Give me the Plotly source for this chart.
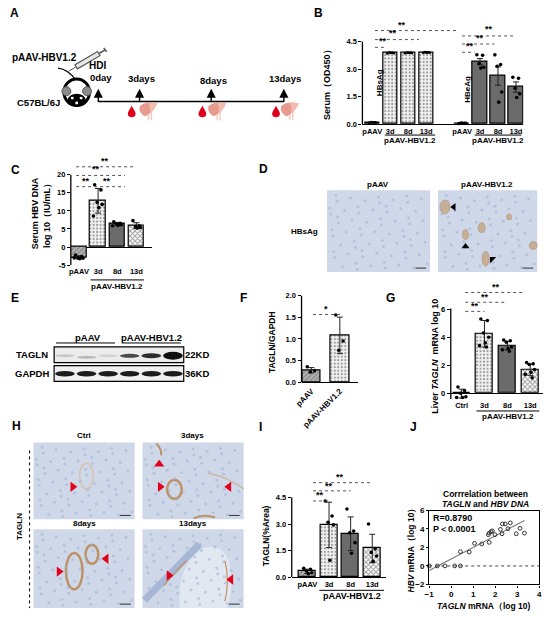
import numpy as np
import plotly.graph_objects as go

W, H = 550, 617
FONT = "Liberation Sans, Arial, sans-serif"

# ---------------- data ----------------
# B  serum HBsAg / HBeAg (OD450), mean +/- SEM
b_ticks = ["pAAV", "3d", "8d", "13d", "pAAV", "3d", "8d", "13d"]
hbsag_mean = [0.10, 3.88, 3.88, 3.90]
hbsag_err = [0.02, 0.03, 0.03, 0.04]
hbsag_pts = [[0.08, 0.11, 0.12, 0.09, 0.10],
             [3.85, 3.89, 3.90, 3.86, 3.88],
             [3.86, 3.88, 3.90, 3.87, 3.89],
             [3.88, 3.91, 3.92, 3.89, 3.90]]
hbeag_mean = [0.05, 3.40, 2.62, 2.02]
hbeag_err = [0.01, 0.17, 0.50, 0.28]
hbeag_pts = [[0.04, 0.05, 0.06, 0.05, 0.05],
             [3.78, 3.75, 3.30, 3.10, 3.05],
             [3.77, 3.25, 3.15, 1.75, 1.20],
             [2.55, 2.50, 1.95, 1.65, 1.45]]

# C  serum HBV DNA log10 (IU/mL), mean +/- SD
c_ticks = ["pAAV", "3d", "8d", "13d"]
dna_mean = [-2.85, 12.8, 6.35, 5.92]
dna_sd = [0.45, 3.4, 0.45, 0.8]
dna_pts = [[-2.2, -2.6, -3.0, -3.1, -3.2, -3.0],
           [17.2, 15.8, 12.4, 11.8, 10.9, 8.6],
           [7.0, 6.6, 6.4, 6.2, 6.0, 5.9],
           [7.3, 5.9, 5.7, 5.4, 5.3]]

# F  TAGLN/GAPDH
f_ticks = ["pAAV", "pAAV-HBV1.2"]
ratio_mean = [0.28, 1.08]
ratio_sd = [0.06, 0.42]
ratio_pts = [[0.36, 0.27, 0.24], [1.55, 0.95, 0.74]]

# G  liver TAGLN mRNA log10
g_ticks = ["Ctrl", "3d", "8d", "13d"]
mrna_mean = [-0.03, 4.25, 3.40, 1.68]
mrna_sd = [0.32, 0.95, 0.30, 0.40]
mrna_pts = [[0.45, 0.2, 0.0, -0.25, -0.3, -0.3],
            [5.3, 5.2, 4.3, 4.0, 3.6, 3.4, 3.3],
            [3.8, 3.75, 3.65, 3.3, 3.2, 3.1, 3.0],
            [2.2, 2.1, 2.05, 1.7, 1.5, 1.35, 1.1]]

# I  TAGLN (% area)
i_ticks = ["pAAV", "3d", "8d", "13d"]
area_mean = [0.33, 2.95, 2.45, 1.62]
area_sd = [0.12, 1.28, 0.95, 0.80]
area_pts = [[0.5, 0.45, 0.35, 0.25, 0.2],
            [4.3, 3.45, 3.1, 2.95, 0.95],
            [3.85, 2.6, 2.5, 1.95, 1.35],
            [3.0, 1.6, 1.4, 1.2, 0.9]]

# J  correlation
j_tagln = [-1.0, -0.63, -0.28, 0.16, 0.42, 0.42, 0.82, 1.06, 1.39, 1.73, 1.69, 1.73,
           1.81, 1.87, 1.99, 2.24, 2.31, 2.33, 2.46, 2.58, 2.69, 2.96, 3.13, 3.33]
j_hbv = [0, 0, 0, 0, 0, 1.55, 1.5, 2.45, 2.38, 2.55, 3.38, 3.55,
         3.7, 3.8, 3.38, 3.96, 3.48, 4.55, 4.55, 4.03, 4.66, 3.48, 4.07, 3.55]
j_r = "R=0.8790"
j_p = "P＜0.0001"

# ---------------- helpers ----------------
fig = go.Figure()
layout = {}
annots = []
shapes = []

ST = {  # pattern shape, fg, bg, solidity
    "hatch": ("/", "#333333", "#b3b3b3", 0.3),
    "dots": (".", "#8a8a8a", "#f2f2f2", 0.3),
    "dark": ("", "#6b6b6b", "#6b6b6b", 0.3),
    "check": ("x", "#111111", "#ffffff", 0.5),
}
JIT = [-0.22, 0.18, -0.06, 0.26, 0.05, -0.3, 0.12]


def ids(i):
    return ("x" if i == 1 else f"x{i}"), ("y" if i == 1 else f"y{i}")


def keys(i):
    return ("xaxis" if i == 1 else f"xaxis{i}"), ("yaxis" if i == 1 else f"yaxis{i}")


def fnt(size, color="black"):
    return dict(size=size, family=FONT, color=color, weight="bold")


def txt(x, y, s, size=9, angle=0, xanchor="center", xref="x7", yref="y7"):
    annots.append(dict(x=x, y=y, xref=xref, yref=yref, text=s, showarrow=False,
                       font=fnt(size), textangle=angle, xanchor=xanchor,
                       yanchor="middle", borderpad=0))


def seg(x0, y0, x1, y1, color="black", width=1.0, dash="solid", xref="x7", yref="y7"):
    shapes.append(dict(type="line", xref=xref, yref=yref, x0=x0, y0=y0, x1=x1, y1=y1,
                       line=dict(color=color, width=width, dash=dash), layer="above"))


def blob(x0, y0, x1, y1, fill=None, line=None, lw=1.0, kind="circle", opacity=1.0, layer="above"):
    shapes.append(dict(type=kind, xref="x7", yref="y7", x0=x0, y0=y0, x1=x1, y1=y1,
                       fillcolor=fill if fill else "rgba(0,0,0,0)",
                       line=dict(color=line if line else "rgba(0,0,0,0)", width=lw if line else 0),
                       opacity=opacity, layer=layer))


def path(d, fill=None, line=None, lw=1.0, layer="above"):
    shapes.append(dict(type="path", xref="x7", yref="y7", path=d,
                       fillcolor=fill if fill else "rgba(0,0,0,0)",
                       line=dict(color=line if line else "rgba(0,0,0,0)", width=lw if line else 0),
                       layer=layer))


def dom_x(a, b):
    return [a / W, b / W]


def dom_y(top, bottom):
    return [1 - bottom / H, 1 - top / H]


def bars(i, pos, mean, err, pts, styles, width, psize=3.6):
    xa, ya = ids(i)
    fig.add_trace(go.Bar(
        x=pos, y=mean, width=width, xaxis=xa, yaxis=ya,
        marker=dict(color=[ST[s][2] for s in styles], line=dict(color="black", width=1.2),
                    pattern=dict(shape=[ST[s][0] for s in styles],
                                 fgcolor=[ST[s][1] for s in styles],
                                 bgcolor=[ST[s][2] for s in styles],
                                 solidity=[ST[s][3] for s in styles], size=3.5)),
        error_y=dict(type="data", array=err, color="#222222", thickness=1, width=3)))
    xs, ys = [], []
    for p, vals in zip(pos, pts):
        for k, v in enumerate(vals):
            xs.append(p + JIT[k % len(JIT)] * width)
            ys.append(v)
    fig.add_trace(go.Scatter(x=xs, y=ys, mode="markers", xaxis=xa, yaxis=ya, cliponaxis=False,
                             marker=dict(size=psize, color="black")))


def sig(i, rows):
    xa, ya = ids(i)
    for x0, x1, yl, xs_, ys_, t in rows:
        if x0 is not None:
            shapes.append(dict(type="line", xref=xa, yref=ya, x0=x0, x1=x1, y0=yl, y1=yl,
                               line=dict(color="#555555", width=1, dash="dot")))
        annots.append(dict(xref=xa, yref=ya, x=xs_, y=ys_, text=t, showarrow=False,
                           font=fnt(9), yanchor="middle"))


def yline(i, y0, y1):
    xa, ya = ids(i)
    shapes.append(dict(type="line", xref=f"{xa} domain", yref=ya, x0=0, x1=0, y0=y0, y1=y1,
                       line=dict(color="black", width=1.3)))


def group(i, x0, x1, yl_px, yt_px, s, size=8):
    xa, _ = ids(i)
    shapes.append(dict(type="line", xref=xa, yref="paper", x0=x0, x1=x1,
                       y0=1 - yl_px / H, y1=1 - yl_px / H, line=dict(color="black", width=1)))
    annots.append(dict(xref=xa, yref="paper", x=(x0 + x1) / 2, y=1 - yt_px / H, text=s,
                       showarrow=False, font=fnt(size), yanchor="middle"))


def axes(i, xd, yd, xr, yr, xt, xl, yt, yl, xline=True, zero=False, angle=0, xsize=7.5):
    xa, ya = ids(i)
    kx, ky = keys(i)
    layout[kx] = dict(domain=xd, range=xr, tickvals=xt, ticktext=xl, showline=xline,
                      linecolor="black", linewidth=1.3, ticks="", showgrid=False,
                      zeroline=False, anchor=ya, tickfont=fnt(xsize), tickangle=angle,
                      fixedrange=True)
    layout[ky] = dict(domain=yd, range=yr, tickvals=yt, ticktext=yl, ticks="outside",
                      ticklen=3, tickwidth=1.2, tickcolor="black", showline=False,
                      showgrid=False, zeroline=zero, zerolinecolor="black",
                      zerolinewidth=1.3, anchor=xa, tickfont=fnt(7.5), fixedrange=True)


# ---------------- B ----------------
bp = [0, 1, 2, 3, 5, 6, 7, 8]
bars(1, bp[:4], hbsag_mean, hbsag_err, hbsag_pts, ["dots"] * 4, 0.8, psize=2.5)
bars(1, bp[4:], hbeag_mean, hbeag_err, hbeag_pts, ["dark"] * 4, 0.8)
axes(1, dom_x(362, 526), dom_y(18, 122), [-10 / 18.3, 154 / 18.3], [0, 104 / 18.67],
     bp, b_ticks, [0, 1.5, 3, 4.5], ["0.0", "1.5", "3.0", "4.5"])
yline(1, 0, 4.5)
sig(1, [(0.15, 0.8, 4.18, 0.6, 4.5, "**"), (0.15, 2.6, 4.6, 1.15, 4.94, "**"),
        (0.15, 4.7, 5.09, 1.68, 5.42, "**"), (5.0, 5.7, 3.91, 5.45, 4.26, "**"),
        (5.0, 6.8, 4.36, 6.0, 4.7, "**"), (5.0, 7.9, 4.8, 6.5, 5.16, "**")])
xa1, ya1 = ids(1)
annots.append(dict(xref=xa1, yref=ya1, x=0.45, y=2.25, text="HBsAg", textangle=-90,
                   showarrow=False, font=fnt(8)))
annots.append(dict(xref=xa1, yref=ya1, x=5.3, y=1.9, text="HBeAg", textangle=-90,
                   showarrow=False, font=fnt(8)))
group(1, 0.7, 3.5, 133, 139, "pAAV-HBV1.2")
group(1, 5.7, 8.3, 133, 139, "pAAV-HBV1.2")
txt(326, 80, "Serum（OD450）", 9, angle=-90)

# ---------------- C ----------------
cp = [0, 1, 2, 3]
bars(2, cp, dna_mean, dna_sd, dna_pts, ["hatch", "dots", "dark", "check"], 0.82)
axes(2, dom_x(65, 148), dom_y(155, 265), [-8.3 / 19.5, 74.7 / 19.5], [-5, -5 + 110 / 3.67],
     cp, c_ticks, [-5, 0, 5, 10, 15, 20], ["-5", "0", "5", "10", "15", "20"],
     xline=False, zero=True)
yline(2, -5, 20)
sig(2, [(-0.15, 2.4, 16.7, 0.35, 18.4, "**"), (None, None, None, 1.47, 18.4, "**"),
        (-0.15, 2.4, 19.8, 0.87, 21.5, "**"), (-0.15, 2.9, 22.2, 1.38, 23.9, "**")])
group(2, 0.6, 3.4, 280, 287, "pAAV-HBV1.2")
txt(35, 212, "Serum HBV DNA<br>log 10（IU/mL）", 9, angle=-90)

# ---------------- F ----------------
fp = [0, 1]
bars(3, fp, ratio_mean, ratio_sd, ratio_pts, ["hatch", "dots"], 0.65)
axes(3, dom_x(300, 357), dom_y(295.7, 384), [-10 / 29, 47 / 29], [0, 2.0],
     fp, f_ticks, [0, 0.5, 1, 1.5, 2], ["0.0", "0.5", "1.0", "1.5", "2.0"], angle=-45, xsize=8)
yline(3, 0, 2.0)
sig(3, [(0.06, 1.03, 1.56, 0.5, 1.68, "*")])
txt(270, 343, "TAGLN/GAPDH", 8.5, angle=-90)

# ---------------- G ----------------
gp = [0, 1, 2, 3]
bars(4, gp, mrna_mean, mrna_sd, mrna_pts, ["dots", "dots", "dark", "check"], 0.72)
axes(4, dom_x(452, 546), dom_y(283, 401), [-11 / 23.3, 83 / 23.3], [-6 / 14.2, 112 / 14.2],
     gp, g_ticks, [0, 2, 4, 6], ["0", "2", "4", "6"], xline=False, zero=True)
yline(4, -6 / 14.2, 6.05)
sig(4, [(0.16, 1.0, 5.85, 0.59, 6.25, "**"), (0.16, 1.9, 6.5, 1.03, 6.9, "**"),
        (0.16, 2.75, 7.2, 1.5, 7.62, "**")])
group(4, 0.65, 3.4, 413, 419, "pAAV-HBV1.2")
txt(436, 358, "Liver <i>TAGLN</i>  mRNA log 10", 9, angle=-90)

# ---------------- I ----------------
ip = [0, 1, 2, 3]
bars(5, ip, area_mean, area_sd, area_pts, ["hatch", "dots", "dark", "check"], 0.78)
axes(5, dom_x(290, 386), dom_y(476, 581.7), [-16 / 22, 80 / 22], [0, 105.7 / 18],
     ip, i_ticks, [0, 1.5, 3, 4.5], ["0.0", "1.5", "3.0", "4.5"])
yline(5, 0, 4.5)
sig(5, [(0.26, 1.0, 4.3, 0.6, 4.62, "**"), (0.26, 2.0, 4.87, 1.0, 5.17, "**"),
        (0.26, 3.0, 5.33, 1.5, 5.64, "**")])
group(5, 0.55, 3.55, 595, 601, "pAAV-HBV1.2", size=9)
txt(264, 540, "TAGLN(%Area)", 8.5, angle=-90)

# ---------------- J ----------------
xa6, ya6 = ids(6)
slope, icpt = np.polyfit(j_tagln, j_hbv, 1)
fx = np.array([min(j_tagln), max(j_tagln)])
fig.add_trace(go.Scatter(x=fx, y=slope * fx + icpt, mode="lines", xaxis=xa6, yaxis=ya6,
                         line=dict(color="#777777", width=1.2)))
fig.add_trace(go.Scatter(x=j_tagln, y=j_hbv, mode="markers", xaxis=xa6, yaxis=ya6, cliponaxis=False,
                         marker=dict(size=3.8, color="#333333", symbol="circle-open",
                                     line=dict(width=1, color="#333333"))))
shapes.append(dict(type="line", xref=f"{xa6} domain", yref=ya6, x0=0, x1=1, y0=0, y1=0,
                   line=dict(color="#444444", width=1, dash="dot")))
layout["xaxis6"] = dict(domain=dom_x(430, 542), range=[-1, 4], tickvals=[-1, 0, 1, 2, 3, 4],
                        ticks="outside", ticklen=2, tickcolor="black", showline=True, mirror=True,
                        linecolor="black", linewidth=1.2, showgrid=False, zeroline=False,
                        anchor=ya6, tickfont=fnt(8), fixedrange=True)
layout["yaxis6"] = dict(domain=dom_y(514, 589), range=[-2, 6], tickvals=[-2, 0, 2, 4, 6],
                        ticks="outside", ticklen=2, tickcolor="black", showline=True, mirror=True,
                        linecolor="black", linewidth=1.2, showgrid=False, zeroline=False,
                        anchor=xa6, tickfont=fnt(8), fixedrange=True)
txt(433, 522, j_r, 9, xanchor="left")
txt(433, 533, j_p, 9, xanchor="left")
txt(487, 497, "Corrrelation between", 8.5)
txt(487, 507, "<i>TAGLN</i> and <i>HBV DNA</i>", 8.5)
txt(486, 611, "<i>TAGLN</i> mRNA（log 10)", 8.5)
txt(411, 552, "<i>HBV</i> mRNA（log 10）", 8.5, angle=-90)

# ---------------- canvas (illustrations and photos) ----------------
layout["xaxis7"] = dict(domain=[0, 1], range=[0, W], visible=False, fixedrange=True, anchor="y7")
layout["yaxis7"] = dict(domain=[0, 1], range=[H, 0], visible=False, fixedrange=True, anchor="x7")

# panel letters
for s, x, y in [("A", 8, 9), ("B", 317, 9), ("C", 9, 168), ("D", 261, 167), ("E", 8, 298),
                ("F", 241, 298), ("G", 391, 298), ("H", 10, 428), ("I", 258, 429), ("J", 414, 429)]:
    txt(x, y, s, 12)

# A: timeline scheme
txt(38, 54, "pAAV-HBV1.2", 10)
txt(32, 100, "C57BL/6J", 9.5)
txt(92, 62, "HDI", 10)
for s, x, y in [("0day", 96, 75), ("3days", 137, 76), ("8days", 210, 78), ("13days", 283, 76)]:
    txt(x, y, s, 9.5)
seg(93, 99, 282, 99, width=1.5)
for x in [93, 135, 208, 282]:
    annots.append(dict(x=x, y=86, xref="x7", yref="y7", ax=x, ay=101, axref="x7", ayref="y7",
                       text="", showarrow=True, arrowhead=2, arrowsize=1.3, arrowwidth=1.4,
                       arrowcolor="black"))
# syringe
seg(70, 64, 94, 50, color="#555555", width=6)
seg(71, 63.4, 93, 50.6, color="#e8e8e8", width=3.6)
seg(94, 50, 100, 46.5, color="#555555", width=1.5)
seg(98.5, 44.5, 101.5, 48.5, color="#555555", width=1.5)
seg(70, 64, 63, 68, color="#555555", width=1)
# mouse
path("M 70 77 Q 62 66 52 65", line="black", lw=1.2)
blob(58, 76, 84, 103, fill="white", line="black", lw=3)
blob(56, 84, 65, 93, fill="#8c8c8c", line="#555555", lw=1)
blob(77, 84, 86, 93, fill="#8c8c8c", line="#555555", lw=1)
blob(62, 91, 80, 104, fill="black")
blob(65, 94, 68, 97, fill="white")
blob(74, 94, 77, 97, fill="white")
blob(69.5, 99, 72.5, 102, fill="white")
# blood drops and livers
for dx, lx in [(127, 143), (199, 213), (274, 287)]:
    cy = 109
    path(f"M {dx} {cy - 6} C {dx + 1} {cy - 3} {dx + 4} {cy} {dx + 4} {cy + 2.5} "
         f"C {dx + 4} {cy + 5} {dx + 2} {cy + 6} {dx} {cy + 6} C {dx - 2} {cy + 6} {dx - 4} {cy + 5} "
         f"{dx - 4} {cy + 2.5} C {dx - 4} {cy} {dx - 1} {cy - 3} {dx} {cy - 6} Z", fill="#e0001b")
    ly = 107
    seg(lx + 1, ly, lx + 1, ly + 11, color="#f5c9c0", width=1.5)
    seg(lx + 4, ly, lx + 4, ly + 11, color="#f5c9c0", width=1.5)
    path(f"M {lx - 8} {ly - 3} Q {lx - 2} {ly - 9} {lx + 10} {ly - 6} Q {lx + 7} {ly + 2} "
         f"{lx - 2} {ly + 7} Q {lx - 9} {ly + 4} {lx - 8} {ly - 3} Z", fill="#e79b8e")
    path(f"M {lx + 1} {ly - 6.5} Q {lx + 7} {ly - 7} {lx + 10} {ly - 6} Q {lx + 7} {ly + 1} "
         f"{lx + 2} {ly + 4} Q {lx + 4} {ly - 1} {lx + 1} {ly - 6.5} Z", fill="#f2bcb0")

# photo backgrounds and stained structures, all below the canvas traces
d_boxes = [(326, 189, 431, 272), (439, 189, 540, 272)]
h_boxes = [(27, 445, 130, 523), (138, 445, 241, 523), (27, 533, 130, 613), (138, 533, 241, 613)]
for x0, y0, x1, y1 in d_boxes + h_boxes:
    blob(x0, y0, x1, y1, fill="#cfd8e8", kind="rect", layer="below")

# D: HBsAg IHC
for x0, y0, x1, y1 in [(441, 199, 451, 213), (464, 229, 470, 239), (480, 222, 487, 232),
                       (484, 251, 491, 266), (532, 241, 540, 249), (509, 213, 514, 219)]:
    blob(x0, y0, x1, y1, fill="#c9a684", line="#b38a62", lw=0.8, opacity=0.8, layer="below")

# H: TAGLN IHC
BROWN = "#be9266"
blob(74, 466, 88, 492, line="#d4c3b2", lw=1.5, layer="below")
blob(163, 483, 178, 502, line=BROWN, lw=2.5, layer="below")
path("M 152 446 Q 158 452 157 458", line=BROWN, lw=2, layer="below")
path("M 190 522 Q 200 517 212 521", line=BROWN, lw=2, layer="below")
path("M 205 476 Q 225 480 241 492", line="#cdb49a", lw=1.2, layer="below")
blob(60, 557, 77, 594, line=BROWN, lw=2.5, layer="below")
blob(80, 549, 93, 568, line=BROWN, lw=2.5, layer="below")
path("M 176 613 Q 172 570 200 552 Q 226 545 228 580 Q 230 600 224 613 Z", fill="#e2e8f1", layer="below")
path("M 140 605 Q 165 580 196 548", line="#a9b7d6", lw=7, layer="below")
path("M 160 590 Q 172 575 183 565", line=BROWN, lw=1.5, layer="below")
path("M 222 565 Q 227 585 222 606", line=BROWN, lw=1.2, layer="below")

# nuclei speckle texture on every photo (low-discrepancy layout)
nx, ny = [], []
for x0, y0, x1, y1 in d_boxes + h_boxes:
    for k in range(1, 70):
        nx.append(x0 + 2 + (x1 - x0 - 4) * ((k * 0.7548777) % 1))
        ny.append(y0 + 2 + (y1 - y0 - 4) * ((k * 0.5698403) % 1))
fig.add_trace(go.Scatter(x=nx, y=ny, mode="markers", xaxis="x7", yaxis="y7",
                         marker=dict(size=3, color="#9fb0d6", opacity=0.55)))
for x0, y0, x1, y1 in d_boxes + h_boxes:
    seg(x1 - 15, y1 - 4, x1 - 4, y1 - 4, color="#333333", width=1)

txt(378, 183, "pAAV", 8)
txt(489, 183, "pAAV-HBV1.2", 8)
txt(303, 231, "HBsAg", 8)
txt(78, 438, "Ctrl", 8)
txt(189, 438, "3days", 8)
txt(79, 527, "8days", 8)
txt(189, 527, "13days", 8)
txt(13, 530, "TAGLN", 8, angle=-90)
seg(23, 453, 23, 613, width=1, dash="dot")

# E: western blot
blob(48, 348, 180, 364, fill="#ececec", line="black", lw=1.2, kind="rect")
blob(48, 367, 180, 383, fill="#f0f0f0", line="black", lw=1.2, kind="rect")
for k, (c, hgt) in enumerate([("#c8c8c8", 3), ("#b8b8b8", 3), ("#d2d2d2", 3),
                              ("#4a4a4a", 4), ("#2c2c2c", 5), ("#0e0e0e", 8)]):
    cx = 59 + 22 * k
    off = 1.5 if k == 1 else 0
    blob(cx - 10, 357 - hgt / 2 + off, cx + 10, 357 + hgt / 2 + off, fill=c)
    blob(cx - 10, 372.5, cx + 10, 378, fill="#1c1c1c")
txt(25, 356, "TAGLN", 9.5)
txt(25, 375, "GAPDH", 9.5)
txt(194, 356, "22KD", 9.5)
txt(194, 375, "36KD", 9.5)
txt(82, 338, "pAAV", 9.5)
txt(147, 338, "pAAV-HBV1.2", 9.5)
seg(50, 344, 110, 344)
seg(117, 344, 177, 344)

# arrowheads
fig.add_trace(go.Scatter(
    x=[67, 155, 156, 226, 53, 101, 165, 228], y=[490, 467, 490, 490, 576, 563, 580, 584],
    mode="markers", xaxis="x7", yaxis="y7", cliponaxis=False,
    marker=dict(size=9, color="#e3001b",
                symbol=["triangle-right", "triangle-up", "triangle-right", "triangle-left",
                        "triangle-right", "triangle-left", "triangle-right", "triangle-left"])))
fig.add_trace(go.Scatter(
    x=[455, 467, 494], y=[206, 246, 259], mode="markers", xaxis="x7", yaxis="y7", cliponaxis=False,
    marker=dict(size=7, color="black", symbol=["triangle-left", "triangle-up", "triangle-nw"])))

fig.update_layout(
    width=W, height=H, margin=dict(l=0, r=0, t=0, b=0), showlegend=False,
    paper_bgcolor="white", plot_bgcolor="rgba(0,0,0,0)", bargap=0,
    font=dict(family=FONT, color="black"),
    annotations=annots, shapes=shapes, **layout)

# page body has a default 8px margin; drop it so the figure fills the window
fig.write_html("out.html", config={"displayModeBar": False},
               post_script="document.body.style.margin='0px';")
